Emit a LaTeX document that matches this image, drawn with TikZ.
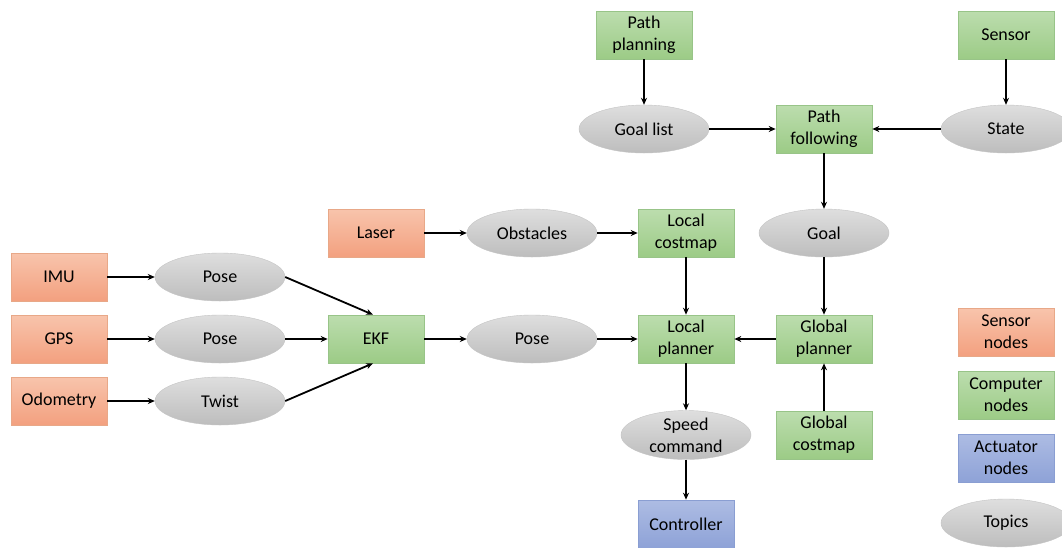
\documentclass[tikz,border=0pt]{standalone}
\usepackage{fontspec}
\setmainfont{Carlito}
\usetikzlibrary{arrows.meta,shapes.geometric}
\definecolor{sensTop}{HTML}{F8C4AC}
\definecolor{sensBot}{HTML}{F3A07F}
\definecolor{sensLine}{HTML}{E8A888}
\definecolor{compTop}{HTML}{BCDDAE}
\definecolor{compBot}{HTML}{9CCB86}
\definecolor{compLine}{HTML}{98C488}
\definecolor{actTop}{HTML}{ADBCE3}
\definecolor{actBot}{HTML}{8EA2D7}
\definecolor{actLine}{HTML}{8A9ED2}
\definecolor{topTop}{HTML}{DEDEDE}
\definecolor{topBot}{HTML}{BDBDBD}
\tikzset{
  box/.style={rectangle, minimum width=96pt, minimum height=48pt, inner sep=0pt, align=center, font=\fontsize{18}{22}\selectfont, line width=0.6pt},
  sensbox/.style={box, draw=sensLine, top color=sensTop, bottom color=sensBot},
  compbox/.style={box, draw=compLine, top color=compTop, bottom color=compBot},
  actbox/.style={box, draw=actLine, top color=actTop, bottom color=actBot},
  topic/.style={ellipse, minimum width=130pt, minimum height=48pt, inner sep=0pt, align=center, font=\fontsize{18}{22}\selectfont, top color=topTop, bottom color=topBot, draw=topBot!90!white, line width=0.4pt},
  arr/.style={-{Stealth[length=7pt,width=6pt]}, line width=1.8pt, black},
}
\begin{document}
\begin{tikzpicture}[x=1pt,y=-1pt]
\useasboundingbox (0,0) rectangle (1062,547);
\fill[white] (0,0) rectangle (1062,547);
% sensors
\node[sensbox] (imu) at (59,277) {IMU};
\node[sensbox] (gps) at (59,339) {GPS};
\node[sensbox] (odo) at (59,401) {Odometry};
\node[sensbox] (laser) at (376,233) {Laser};
% topics
\node[topic] (pose1) at (220,277) {Pose};
\node[topic] (pose2) at (220,339) {Pose};
\node[topic] (twist) at (220,401) {Twist};
\node[topic] (pose3) at (532,339) {Pose};
\node[topic] (obst) at (532,233) {Obstacles};
\node[topic] (goal) at (824,233) {Goal};
\node[topic] (goallist) at (644,129) {Goal list};
\node[topic] (state) at (1006,129) {State};
\node[topic] (speed) at (686,435) {Speed\\command};
% computers
\node[compbox] (ekf) at (376,339) {EKF};
\node[compbox] (lcost) at (686,233) {Local\\costmap};
\node[compbox] (lplan) at (686,339) {Local\\planner};
\node[compbox] (gplan) at (824,339) {Global\\planner};
\node[compbox] (gcost) at (824,435) {Global\\costmap};
\node[compbox] (pfollow) at (824,129) {Path\\following};
\node[compbox] (pplan) at (644,35) {Path\\planning};
\node[compbox] (sensor) at (1006,35) {Sensor};
% actuator
\node[actbox] (ctrl) at (686,524) {Controller};
% legend
\node[sensbox] (lsens) at (1006,332) {Sensor\\nodes};
\node[compbox] (lcomp) at (1006,395) {Computer\\nodes};
\node[actbox] (lact) at (1006,458) {Actuator\\nodes};
\node[topic] (ltopic) at (1006,523) {Topics};
% connectors
\draw[arr] (imu) -- (pose1);
\draw[arr] (gps) -- (pose2);
\draw[arr] (odo) -- (twist);
\draw[arr] (pose1.east) -- ([xshift=-3pt]ekf.north);
\draw[arr] (pose2) -- (ekf);
\draw[arr] (twist.east) -- ([xshift=-3pt]ekf.south);
\draw[arr] (ekf) -- (pose3);
\draw[arr] (pose3) -- (lplan);
\draw[arr] (laser) -- (obst);
\draw[arr] (obst) -- (lcost);
\draw[arr] (lcost) -- (lplan);
\draw[arr] (gplan) -- (lplan);
\draw[arr] (lplan) -- (speed);
\draw[arr] (speed) -- (ctrl);
\draw[arr] (gcost) -- (gplan);
\draw[arr] (goal) -- (gplan);
\draw[arr] (pfollow) -- (goal);
\draw[arr] (goallist) -- (pfollow);
\draw[arr] (state) -- (pfollow);
\draw[arr] (pplan) -- (goallist);
\draw[arr] (sensor) -- (state);
\end{tikzpicture}
\end{document}
